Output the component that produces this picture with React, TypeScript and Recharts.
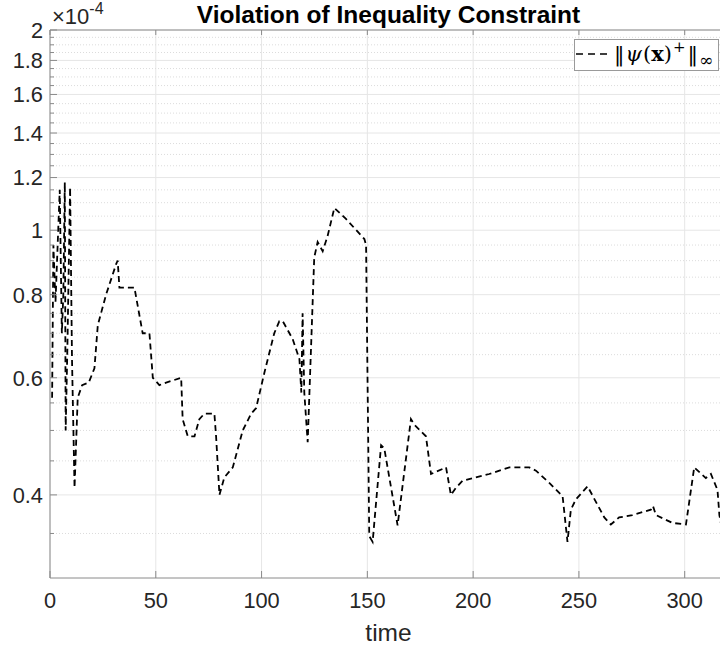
import { LineChart, Line, XAxis, YAxis, CartesianGrid, ReferenceLine, Legend } from "recharts";

// time stamps of the samples
const time = [
  1.0, 1.6, 2.6, 4.6, 5.6, 6.3, 7.0, 7.4, 8.2, 9.5,
  10.4, 11.6, 13.1, 15.2, 18.3, 21.0, 22.6, 26.5, 31.3, 32.0,
  32.8, 35.2, 39.9, 43.8, 47.0, 48.6, 51.7, 54.9, 62.0, 62.7,
  65.1, 68.3, 70.6, 73.0, 77.7, 78.5, 80.1, 82.4, 86.4, 91.1,
  95.1, 97.4, 101.3, 106.0, 108.4, 110.0, 114.7, 117.9, 118.8, 119.4,
  120.2, 121.8, 124.9, 126.5, 128.9, 131.2, 134.4, 139.9, 148.6, 149.4,
  150.9, 152.5, 156.5, 158.0, 164.3, 170.6, 172.2, 177.7, 180.1, 187.2,
  189.5, 191.9, 195.0, 207.6, 217.1, 226.5, 229.7, 236.0, 242.3, 244.6,
  246.2, 248.6, 254.1, 262.0, 265.1, 269.0, 275.3, 284.0, 285.0, 286.4,
  294.2, 300.6, 304.5, 310.0, 312.4, 315.5, 316.4, 318.0,
];

// ||psi(x)^+||_inf, in units of 1e-4
const violation = [
  0.56, 0.95, 0.78, 1.15, 0.70, 0.80, 1.18, 0.50, 0.66, 1.16,
  0.64, 0.41, 0.56, 0.585, 0.59, 0.62, 0.72, 0.80, 0.89, 0.90,
  0.82, 0.82, 0.82, 0.70, 0.70, 0.60, 0.585, 0.59, 0.60, 0.52,
  0.49, 0.49, 0.52, 0.53, 0.53, 0.49, 0.40, 0.425, 0.44, 0.50,
  0.53, 0.54, 0.61, 0.70, 0.73, 0.73, 0.686, 0.64, 0.57, 0.75,
  0.57, 0.48, 0.91, 0.96, 0.93, 0.98, 1.08, 1.04, 0.97, 0.95,
  0.347, 0.34, 0.475, 0.47, 0.36, 0.52, 0.51, 0.49, 0.43, 0.44,
  0.40, 0.41, 0.42, 0.43, 0.44, 0.44, 0.435, 0.417, 0.398, 0.34,
  0.38, 0.394, 0.412, 0.37, 0.361, 0.37, 0.373, 0.38, 0.385, 0.373,
  0.363, 0.361, 0.44, 0.424, 0.43, 0.407, 0.373, 0.35,
];

const xTicks = [0, 50, 100, 150, 200, 250, 300];
const yMajor = [0.4, 0.6, 0.8, 1, 1.2, 1.4, 1.6, 1.8, 2];
const yMinor = [
  0.35, 0.45, 0.5, 0.55, 0.65, 0.7, 0.75, 0.85, 0.9, 0.95,
  1.05, 1.1, 1.15, 1.25, 1.3, 1.35, 1.45, 1.5, 1.55, 1.65,
  1.7, 1.75, 1.85, 1.9, 1.95,
];

const data = time.map((t, i) => ({ t, v: violation[i] }));

const FONT = "'Liberation Sans', Arial, Helvetica, sans-serif";
const AXIS = "#8a8a8a";
const TEXT = "#262626";
const PLOT_LEFT = 50;
const PLOT_TOP = 30;
const PLOT_BOTTOM = 578;

const YTick = ({ y, payload }: any) => {
  const major = yMajor.includes(payload.value);
  return (
    <g>
      <line x1={PLOT_LEFT} x2={PLOT_LEFT + (major ? 7 : 4)} y1={y} y2={y} stroke={AXIS} />
      {major && (
        <text x={43} y={y} dy="0.36em" textAnchor="end" fontSize={21.8} fill={TEXT} fontFamily={FONT}>
          {String(payload.value)}
        </text>
      )}
    </g>
  );
};

const XTick = ({ x, payload }: any) => (
  <g>
    <line x1={x} x2={x} y1={PLOT_BOTTOM} y2={PLOT_BOTTOM - 7} stroke={AXIS} />
    <line x1={x} x2={x} y1={PLOT_TOP} y2={PLOT_TOP + 5} stroke={AXIS} />
    <text x={x} y={608} textAnchor="middle" fontSize={21.8} fill={TEXT} fontFamily={FONT}>
      {payload.value}
    </text>
  </g>
);

const MATH = "'DejaVu Serif', 'Liberation Serif', serif";

const LegendBox = () => (
  <svg width={145} height={32}>
    <rect x={0.5} y={0.5} width={144} height={31} fill="#fff" stroke="#9a9a9a" />
    <line x1={2} x2={33} y1={15} y2={15} stroke="#000" strokeWidth={1.6} strokeDasharray="7 5" />
    <text x={40} y={22} fontSize={21} fontFamily={MATH} fill="#000">
      ‖<tspan fontStyle="italic" dx={1}>ψ</tspan>
      <tspan dx={1}>(</tspan>
      <tspan fontWeight="bold">x</tspan>)
      <tspan fontSize={15} dy={-9} dx={1}>+</tspan>
      <tspan dy={9} dx={2}>‖</tspan>
      <tspan fontSize={17} dy={5} dx={1}>∞</tspan>
    </text>
  </svg>
);

export default function App() {
  return (
    <div style={{ position: "absolute", left: 0, top: 0, width: 720, height: 646, overflow: "hidden", background: "#fff" }}>
      <LineChart width={727} height={646} data={data} margin={{ top: PLOT_TOP, right: 0, bottom: 0, left: 0 }}>
        <CartesianGrid horizontal={false} stroke="#e6e6e6" />
        {yMinor.map((v) => (
          <ReferenceLine key={"m" + v} y={v} stroke="#dcdcdc" strokeDasharray="1 2" />
        ))}
        {yMajor.map((v) => (
          <ReferenceLine key={"M" + v} y={v} stroke="#e6e6e6" />
        ))}
        <ReferenceLine y={2} stroke={AXIS} />
        <XAxis
          dataKey="t"
          type="number"
          domain={[0, 320]}
          ticks={xTicks}
          interval={0}
          allowDataOverflow
          height={68}
          tickLine={false}
          axisLine={{ stroke: AXIS }}
          tick={<XTick />}
          label={{ value: "time", position: "insideBottom", offset: 5, fontSize: 24.5, fill: TEXT, fontFamily: FONT }}
        />
        <YAxis
          type="number"
          scale="log"
          domain={[0.3, 2]}
          ticks={[...yMinor, ...yMajor].sort((a, b) => a - b)}
          interval={0}
          allowDataOverflow
          width={PLOT_LEFT}
          tickLine={false}
          axisLine={{ stroke: AXIS }}
          tick={<YTick />}
        />
        <Legend
          layout="horizontal"
          verticalAlign="middle"
          align="center"
          content={<LegendBox />}
          wrapperStyle={{ left: 574, top: 39, width: 145, height: 32 }}
        />
        <Line
          type="linear"
          dataKey="v"
          stroke="#000"
          strokeWidth={1.8}
          strokeDasharray="6 4"
          dot={false}
          isAnimationActive={false}
        />
      </LineChart>
      <svg width={720} height={646} style={{ position: "absolute", left: 0, top: 0, pointerEvents: "none" }}>
        <text x={388.5} y={22.5} textAnchor="middle" fontSize={24.5} fontWeight="bold" fontFamily={FONT} fill="#000">
          Violation of Inequality Constraint
        </text>
        <text x={52} y={24} fontSize={22} fontFamily={FONT} fill={TEXT}>
          ×10<tspan fontSize={16} dy={-10}>-4</tspan>
        </text>
      </svg>
    </div>
  );
}
